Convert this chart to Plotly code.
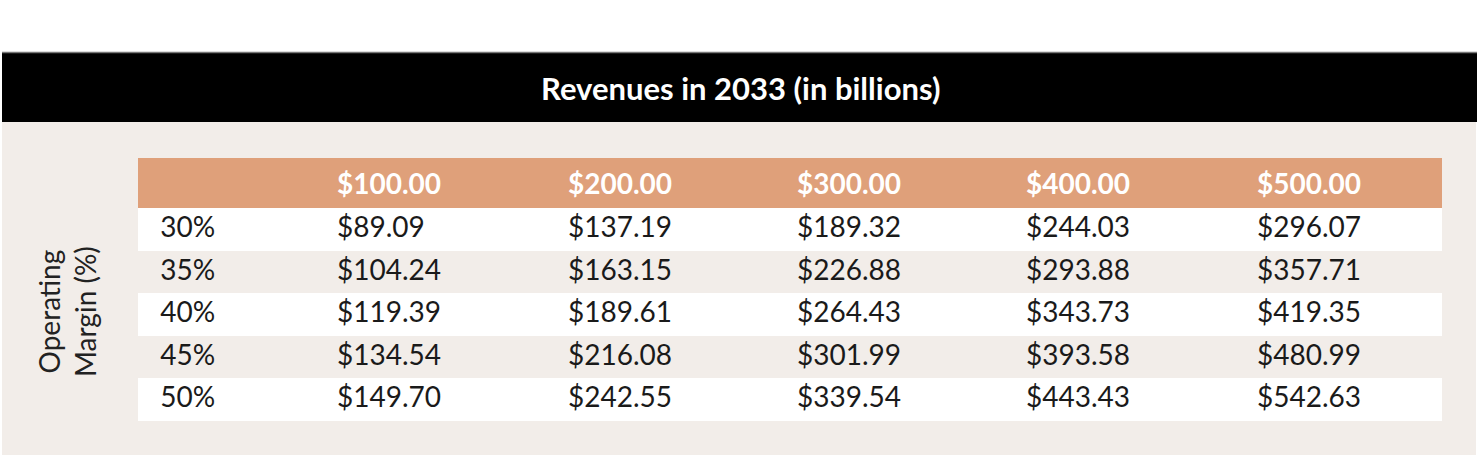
import plotly.graph_objects as go

# ---- data ----
title_text = "Revenues in 2033 (in billions)"
row_title = "Operating<br>Margin (%)"
revenues = [100, 200, 300, 400, 500]          # column headers (billions)
margins = [30, 35, 40, 45, 50]                # operating margin rows (%)
rev_100 = [89.09, 104.24, 119.39, 134.54, 149.70]
rev_200 = [137.19, 163.15, 189.61, 216.08, 242.55]
rev_300 = [189.32, 226.88, 264.43, 301.99, 339.54]
rev_400 = [244.03, 293.88, 343.73, 393.58, 443.43]
rev_500 = [296.07, 357.71, 419.35, 480.99, 542.63]

W, H = 1477, 474
BEIGE = "#F2EDE9"
ORANGE = "#DFA07A"
FONT = "Lato"

NB = "\u00a0"
header_vals = [""] + [f"<b>${r:.2f}</b>" for r in revenues]
label_col = [f"{NB*2}{m}%" for m in margins]
value_cols = [[f"${v:.2f}" for v in col] for col in (rev_100, rev_200, rev_300, rev_400, rev_500)]
row_fill = ["white" if i % 2 == 0 else BEIGE for i in range(len(margins))]

fig = go.Figure()

fig.add_trace(go.Table(
    domain=dict(x=[138 / W, 1442 / W], y=[1 - 425 / H, 1 - 158 / H]),
    columnwidth=[191, 231, 229, 229, 231, 193],
    header=dict(
        values=header_vals,
        fill_color=ORANGE,
        line=dict(width=0, color=ORANGE),
        align="left",
        height=49,
        font=dict(family=FONT, size=28, color="white"),
    ),
    cells=dict(
        values=[label_col] + value_cols,
        fill_color=[row_fill] * 6,
        line=dict(width=0, color="white"),
        align="left",
        height=42.6,
        font=dict(family=FONT, size=28, color="#1a1a1a"),
    ),
))

shapes = [
    # beige panel
    dict(type="rect", xref="paper", yref="paper", x0=2 / W, x1=1476 / W, y0=1 - 455 / H, y1=1 - 122 / H,
         fillcolor=BEIGE, line=dict(width=0), layer="below"),
    # black title bar
    dict(type="rect", xref="paper", yref="paper", x0=2 / W, x1=1, y0=1 - 122 / H, y1=1 - 53 / H,
         fillcolor="black", line=dict(width=0), layer="below"),
    # thin grey line on top of the bar
    dict(type="line", xref="paper", yref="paper", x0=2 / W, x1=1, y0=1 - 52.5 / H, y1=1 - 52.5 / H,
         line=dict(color="#777777", width=1.5), layer="below"),
]

annotations = [
    dict(text=f"<b>{title_text}</b>", xref="paper", yref="paper", x=741 / W, y=1 - 88 / H,
         showarrow=False, xanchor="center", yanchor="middle",
         font=dict(family=FONT, size=31, color="white")),
    dict(text=row_title, xref="paper", yref="paper", x=67 / W, y=1 - 312 / H,
         showarrow=False, xanchor="center", yanchor="middle", textangle=-90,
         font=dict(family=FONT, size=28, color="#222222")),
]

fig.update_layout(
    width=W, height=H,
    margin=dict(l=0, r=0, t=0, b=0),
    paper_bgcolor="white",
    plot_bgcolor="white",
    shapes=shapes,
    annotations=annotations,
    showlegend=False,
)

fig.write_html("out.html", config={"displayModeBar": False},
               post_script="document.body.style.margin='0';")
